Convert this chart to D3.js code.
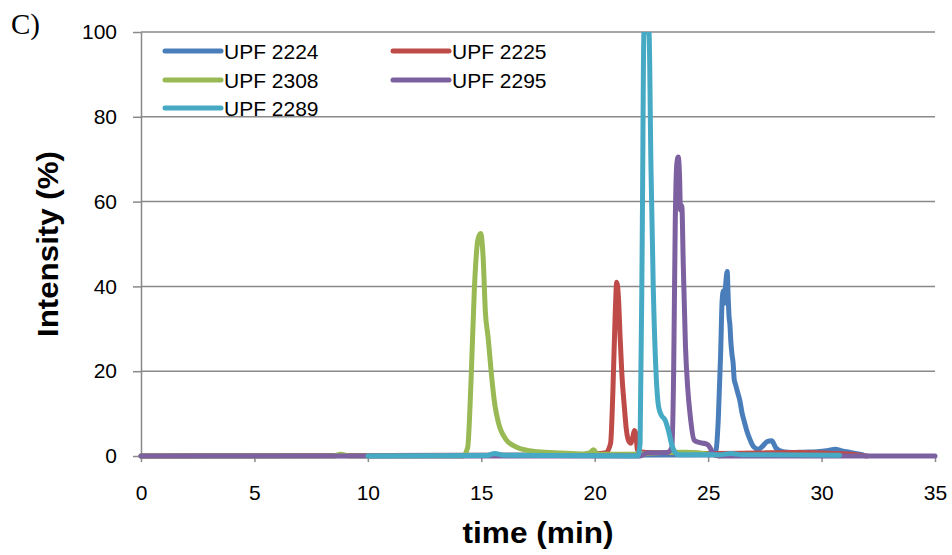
<!DOCTYPE html>
<html>
<head>
<meta charset="utf-8">
<script src="https://cdn.jsdelivr.net/npm/d3@7"></script>
<style>
  html, body { margin: 0; padding: 0; background: #fff; }
  svg { display: block; }
</style>
</head>
<body>
<svg id="chart" width="952" height="555"></svg>
<script>
// ---------- DATA ----------
const seriesNames = ["UPF 2224", "UPF 2225", "UPF 2308", "UPF 2295", "UPF 2289"];
const seriesColors = ["#4a7ebb", "#be4b48", "#98b954", "#7d60a0", "#46aac5"];

const t2224 = [0, 25.2, 25.35, 25.45, 25.55, 25.62, 25.68, 25.72, 25.78, 25.84, 25.88, 25.92, 25.96, 26.0, 26.05, 26.1, 26.15, 26.2, 26.3, 26.4, 26.5, 26.6, 26.7, 26.85, 27.0, 27.2, 27.4, 27.6, 27.8, 28.0, 28.3, 28.7, 29.2, 29.8, 30.3, 30.6, 30.9, 31.3, 31.8];
const v2224 = [0, 0.3, 1.5, 9, 24, 37, 39, 36, 41, 43.5, 38, 33, 31, 27, 24, 22, 18, 17, 15, 13, 10, 8, 6, 3.8, 2.2, 1.6, 2.3, 3.4, 3.6, 1.8, 1.0, 0.8, 0.9, 1.0, 1.3, 1.6, 1.2, 0.8, 0.3];

const t2225 = [0, 19.0, 20.0, 20.5, 20.7, 20.8, 20.9, 20.97, 21.05, 21.12, 21.2, 21.3, 21.4, 21.5, 21.6, 21.68, 21.75, 21.82, 21.88, 22.0, 22.3, 23, 25, 27, 29, 30.5, 31.5, 32];
const v2225 = [0, 0.2, 0.5, 0.8, 3, 15, 33, 41, 37, 28, 19, 12, 6, 3.5, 3, 4.5, 6, 5, 1.5, 1.0, 0.8, 0.8, 0.6, 0.7, 0.8, 0.6, 0.3, 0];

const t2308 = [0, 8.5, 8.8, 9.2, 14.2, 14.4, 14.55, 14.7, 14.85, 14.97, 15.08, 15.18, 15.3, 15.47, 15.6, 15.75, 16.1, 16.4, 16.8, 17.5, 18.5, 19.5, 19.8, 19.95, 20.1, 21, 22, 23, 24, 25, 25.5];
const v2308 = [0, 0, 0.4, 0, 0, 2, 18, 40, 51, 52.5, 47, 34, 28, 18, 12, 8, 3.8, 2.5, 1.6, 1.0, 0.7, 0.5, 0.8, 1.5, 0.5, 0.4, 0.5, 0.8, 0.9, 0.5, 0];

const t2295 = [0, 22, 22.3, 23.2, 23.4, 23.48, 23.55, 23.62, 23.68, 23.74, 23.78, 23.84, 23.9, 24.0, 24.1, 24.2, 24.38, 24.6, 24.8, 25.0, 25.1, 25.25, 25.5, 35];
const v2295 = [0, 0, 0.7, 0.8, 2, 20, 55, 69, 70.5, 66, 58, 59, 46, 26, 16, 10, 3.8, 3.2, 3.0, 2.6, 1.8, 0.3, 0, 0];

const t2289 = [10, 15.2, 15.6, 16.0, 21.9, 22.0, 22.1, 22.17, 22.39, 22.48, 22.58, 22.7, 22.82, 22.95, 23.1, 23.25, 23.4, 23.55, 23.7, 25.5, 26, 26.5, 30.8];
const v2289 = [0, 0.1, 0.6, 0.2, 0, 3, 55, 100, 100, 68, 40, 20, 11.5, 9.5, 8.5, 6, 2.6, 0.8, 0.3, 0.3, 0.6, 0.3, 0.2];

const seriesTimes = [t2224, t2225, t2308, t2295, t2289];
const seriesValues = [v2224, v2225, v2308, v2295, v2289];

const xTicks = [0, 5, 10, 15, 20, 25, 30, 35];
const yTicks = [0, 20, 40, 60, 80, 100];
const xTitle = "time (min)";
const yTitle = "Intensity (%)";
const panelLabel = "C)";

(function () {
// ---------- LAYOUT ----------
const svg = d3.select("#chart");
const pLeft = 141, pRight = 935, pTop = 32, pBottom = 456;
const x = d3.scaleLinear().domain([0, 35]).range([pLeft, pRight]);
const y = d3.scaleLinear().domain([0, 100]).range([pBottom, pTop]);
const gridColor = "#898989";

// gridlines
svg.append("g").selectAll("line").data(yTicks.filter(d => d > 0)).join("line")
  .attr("x1", pLeft).attr("x2", pRight)
  .attr("y1", d => y(d)).attr("y2", d => y(d))
  .attr("stroke", gridColor).attr("stroke-width", 1.5);

// y axis
const yAxis = svg.append("g").attr("transform", `translate(${pLeft},0)`)
  .call(d3.axisLeft(y).tickValues(yTicks).tickSize(8).tickSizeOuter(0).tickPadding(16));
yAxis.select(".domain").attr("stroke", gridColor).attr("stroke-width", 1.5);
yAxis.selectAll(".tick line").attr("stroke", gridColor).attr("stroke-width", 1.5);
yAxis.selectAll(".tick text").attr("font-family", "Liberation Sans, Arial, sans-serif")
  .attr("font-size", 21).attr("fill", "#000");

// x axis
const xAxis = svg.append("g").attr("transform", `translate(0,${pBottom})`)
  .call(d3.axisBottom(x).tickValues(xTicks).tickSize(6).tickSizeOuter(0).tickPadding(23));
xAxis.select(".domain").attr("stroke", gridColor).attr("stroke-width", 1.5);
xAxis.selectAll(".tick line").attr("stroke", gridColor).attr("stroke-width", 1.5);
xAxis.selectAll(".tick text").attr("font-family", "Liberation Sans, Arial, sans-serif")
  .attr("font-size", 21).attr("fill", "#000");

// clip
svg.append("clipPath").attr("id", "plotclip").append("rect")
  .attr("x", pLeft - 5).attr("y", pTop).attr("width", pRight - pLeft + 10).attr("height", pBottom - pTop + 10);

const line = d3.line().x(d => x(d[0])).y(d => y(d[1])).curve(d3.curveMonotoneX);
const plot = svg.append("g").attr("clip-path", "url(#plotclip)");
seriesNames.forEach((name, i) => {
  const pts = seriesTimes[i].map((t, j) => [t, seriesValues[i][j]]);
  plot.append("path").datum(pts)
    .attr("d", line)
    .attr("fill", "none")
    .attr("stroke", seriesColors[i])
    .attr("stroke-width", 5)
    .attr("stroke-linejoin", "round")
    .attr("stroke-linecap", "round");
});

// legend
const legendPos = [[165, 51], [393, 51], [165, 80], [393, 80], [165, 108]];
seriesNames.forEach((name, i) => {
  const [lx, ly] = legendPos[i];
  svg.append("line").attr("x1", lx).attr("x2", lx + 56).attr("y1", ly).attr("y2", ly)
    .attr("stroke", seriesColors[i]).attr("stroke-width", 5).attr("stroke-linecap", "round");
  svg.append("text").attr("x", lx + 59).attr("y", ly + 7.5)
    .attr("font-family", "Liberation Sans, Arial, sans-serif").attr("font-size", 21)
    .attr("fill", "#000").text(name);
});

// titles
svg.append("text").attr("x", (pLeft + pRight) / 2).attr("y", 543)
  .attr("text-anchor", "middle")
  .attr("font-family", "Liberation Sans, Arial, sans-serif").attr("font-weight", "bold")
  .attr("font-size", 30).attr("textLength", 151).attr("lengthAdjust", "spacingAndGlyphs")
  .text(xTitle);

svg.append("text").attr("transform", `translate(58,${(pTop + pBottom) / 2}) rotate(-90)`)
  .attr("text-anchor", "middle")
  .attr("font-family", "Liberation Sans, Arial, sans-serif").attr("font-weight", "bold")
  .attr("font-size", 30).attr("textLength", 186).attr("lengthAdjust", "spacingAndGlyphs")
  .text(yTitle);

svg.append("text").attr("x", 11).attr("y", 34)
  .attr("font-family", "Liberation Serif, Times New Roman, serif")
  .attr("font-size", 29).attr("fill", "#000").text(panelLabel);
})();
</script>
</body>
</html>
